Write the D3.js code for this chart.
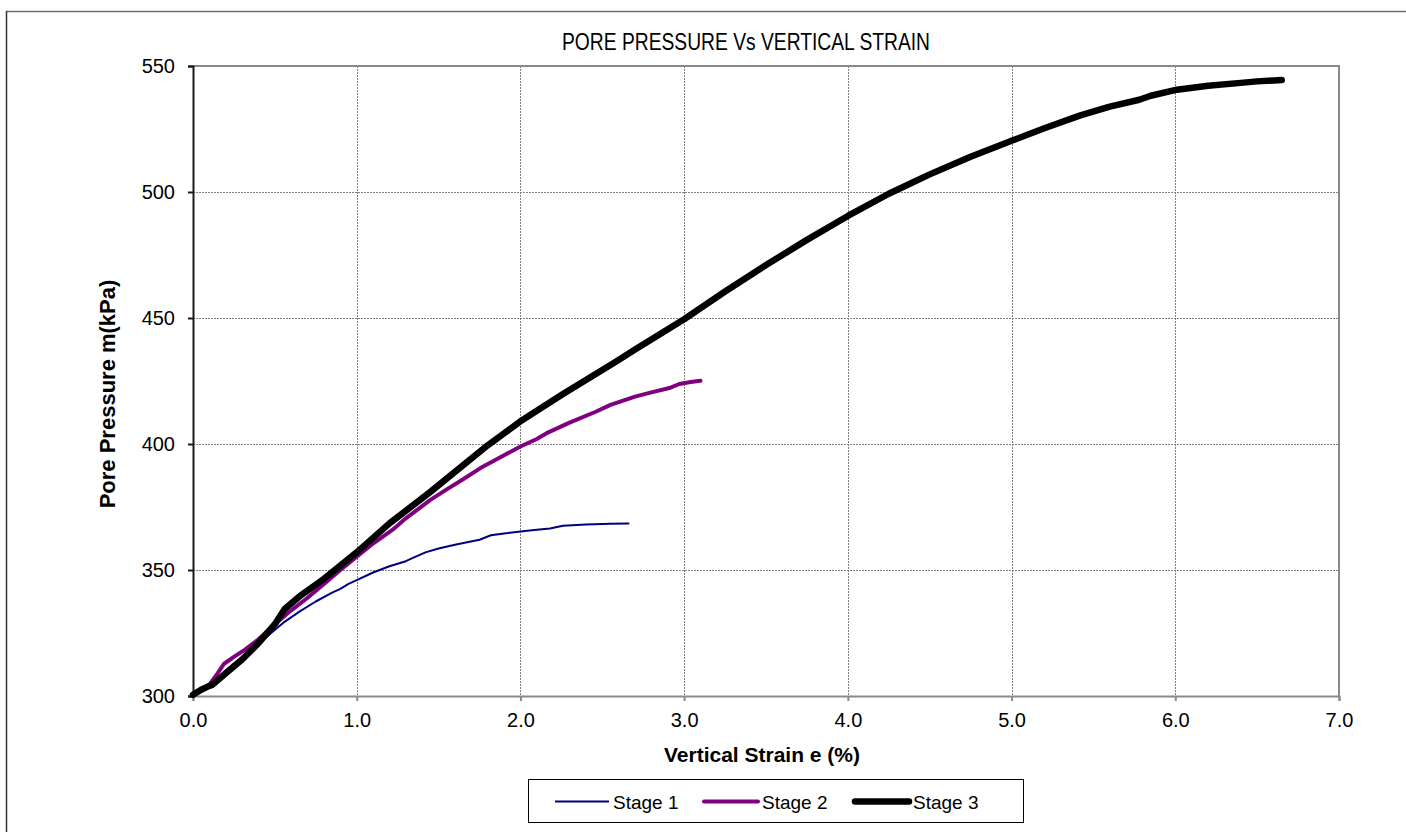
<!DOCTYPE html>
<html>
<head>
<meta charset="utf-8">
<script src="https://cdn.jsdelivr.net/npm/d3@7"></script>
<style>
  html, body { margin: 0; padding: 0; background: #fff; }
  svg { display: block; font-family: "Liberation Sans", Arial, sans-serif; }
</style>
</head>
<body>
<svg id="chart" width="1406" height="832"></svg>
<script>
// Stage 1 readings
const strain1 = [0, 0.1, 0.2, 0.3, 0.35, 0.45, 0.55, 0.65, 0.75, 0.85, 0.9, 0.95, 1.0, 1.1, 1.2, 1.3, 1.35, 1.42, 1.5, 1.6, 1.75, 1.82, 1.9, 2.0, 2.1, 2.18, 2.26, 2.4, 2.55, 2.66];
const pressure1 = [300.5, 304, 310, 315.5, 318, 323.5, 329, 333.5, 337.5, 341, 342.5, 344.5, 346, 349, 351.5, 353.5, 355, 357, 358.5, 360, 362, 363.8, 364.5, 365.3, 366, 366.5, 367.6, 368.1, 368.4, 368.5];

// Stage 2 readings
const strain2 = [0, 0.1, 0.15, 0.19, 0.25, 0.32, 0.4, 0.5, 0.6, 0.7, 0.8, 0.9, 1.0, 1.1, 1.22, 1.3, 1.45, 1.55, 1.65, 1.77, 1.9, 2.0, 2.1, 2.16, 2.3, 2.46, 2.55, 2.7, 2.8, 2.91, 2.97, 3.04, 3.1];
const pressure2 = [301, 304.5, 309, 312.8, 315.5, 318.5, 322.5, 328.5, 334, 339, 344.5, 350, 355.3, 360.5, 366, 370.5, 377.8, 382, 386, 391, 395.5, 399, 402, 404.3, 408.5, 412.8, 415.5, 418.8, 420.5, 422.2, 423.8, 424.6, 425.1];

// Stage 3 readings
const strain3 = [0, 0.05, 0.1, 0.12, 0.2, 0.3, 0.4, 0.5, 0.56, 0.65, 0.8, 1.0, 1.2, 1.45, 1.8, 2.0, 2.26, 2.58, 2.7, 3.0, 3.25, 3.5, 3.75, 4.0, 4.25, 4.5, 4.75, 5.0, 5.2, 5.42, 5.6, 5.78, 5.85, 6.01, 6.2, 6.4, 6.5, 6.65];
const pressure3 = [300.5, 302.5, 304, 304.5, 309, 314.5, 321, 328.5, 334.5, 339.5, 346.5, 357, 368.5, 381, 399.5, 409, 419.8, 432.5, 437.5, 449.5, 460.5, 471, 481, 490.5, 499.3, 507, 514, 520.3, 525.3, 530.4, 533.9, 536.6, 538.2, 540.6, 542.2, 543.3, 543.9, 544.4];

const seriesNames = ["Stage 1", "Stage 2", "Stage 3"];
const seriesColors = ["#000080", "#800080", "#000000"];
const seriesWidths = [2, 4, 6.5];

const xTicks = [0, 1, 2, 3, 4, 5, 6, 7];
const yTicks = [300, 350, 400, 450, 500, 550];

const titleText = "PORE PRESSURE Vs VERTICAL STRAIN";
const xTitle = "Vertical Strain e (%)";
const yTitle = "Pore Pressure m(kPa)";

const svg = d3.select("#chart");

// chart frame (top and left edges visible)
svg.append("line").attr("x1", 6).attr("x2", 1406).attr("y1", 11.5).attr("y2", 11.5)
  .attr("stroke", "#6e6e6e").attr("stroke-width", 1.5);
svg.append("line").attr("x1", 6.5).attr("x2", 6.5).attr("y1", 11).attr("y2", 832)
  .attr("stroke", "#333").attr("stroke-width", 1.5);

const plot = { left: 193, right: 1339, top: 66, bottom: 696 };

const x = d3.scaleLinear().domain([0, 7]).range([plot.left, plot.right]);
const y = d3.scaleLinear().domain([300, 550]).range([plot.bottom, plot.top]);

// gridlines
const grid = svg.append("g").attr("stroke", "#808080").attr("stroke-width", 1)
  .attr("stroke-dasharray", "2,1");
grid.selectAll(".gx").data(xTicks.slice(1, -1)).join("line")
  .attr("x1", d => Math.round(x(d)) + 0.5).attr("x2", d => Math.round(x(d)) + 0.5)
  .attr("y1", plot.top).attr("y2", plot.bottom);
grid.selectAll(".gy").data(yTicks.slice(1, -1)).join("line")
  .attr("y1", d => Math.round(y(d)) + 0.5).attr("y2", d => Math.round(y(d)) + 0.5)
  .attr("x1", plot.left).attr("x2", plot.right);

// plot area border: top and right
svg.append("path")
  .attr("d", `M${plot.left},${plot.top}H${plot.right}V${plot.bottom}`)
  .attr("fill", "none").attr("stroke", "#8a8a8a").attr("stroke-width", 2);

// x axis
const xAxis = svg.append("g").attr("transform", `translate(0,${plot.bottom})`)
  .call(d3.axisBottom(x).tickValues(xTicks).tickFormat(d3.format(".1f")).tickSize(5).tickPadding(12));
xAxis.select(".domain").attr("stroke", "#8a8a8a").attr("stroke-width", 2);
xAxis.selectAll(".tick line").attr("stroke", "#8a8a8a").attr("stroke-width", 2);
xAxis.selectAll(".tick text").attr("font-size", 20).attr("fill", "#000")
  .attr("font-family", "'Liberation Sans', Arial, sans-serif");

// y axis
const yAxis = svg.append("g").attr("transform", `translate(${plot.left},0)`)
  .call(d3.axisLeft(y).tickValues(yTicks).tickFormat(d3.format("d")).tickSize(5).tickPadding(13));
yAxis.select(".domain").attr("stroke", "#1a1a1a").attr("stroke-width", 2);
yAxis.selectAll(".tick line").attr("stroke", "#1a1a1a").attr("stroke-width", 2);
yAxis.selectAll(".tick text").attr("font-size", 20).attr("fill", "#000")
  .attr("font-family", "'Liberation Sans', Arial, sans-serif");

// series
const series = [
  { xs: strain1, ys: pressure1 },
  { xs: strain2, ys: pressure2 },
  { xs: strain3, ys: pressure3 }
];
const line = d3.line().x(d => x(d[0])).y(d => y(d[1]));
series.forEach((s, i) => {
  const pts = s.xs.map((v, k) => [v, s.ys[k]]);
  svg.append("path").datum(pts)
    .attr("d", line)
    .attr("fill", "none")
    .attr("stroke", seriesColors[i])
    .attr("stroke-width", seriesWidths[i])
    .attr("stroke-linejoin", "round")
    .attr("stroke-linecap", "round");
});

// titles
svg.append("text").attr("x", 746).attr("y", 50).attr("text-anchor", "middle")
  .attr("font-family", "'Liberation Sans Narrow', 'Arial Narrow', 'Liberation Sans', sans-serif")
  .attr("font-size", 23).attr("fill", "#000")
  .attr("textLength", 368).attr("lengthAdjust", "spacingAndGlyphs")
  .text(titleText);

svg.append("text").attr("x", 762).attr("y", 762).attr("text-anchor", "middle")
  .attr("font-size", 21).attr("font-weight", "bold").attr("fill", "#000")
  .text(xTitle);

svg.append("text").attr("transform", "translate(115,394) rotate(-90)")
  .attr("text-anchor", "middle")
  .attr("font-size", 22).attr("font-weight", "bold").attr("fill", "#000")
  .text(yTitle);

// legend
const legend = svg.append("g");
legend.append("rect").attr("x", 528.5).attr("y", 779.5).attr("width", 495).attr("height", 43)
  .attr("fill", "#fff").attr("stroke", "#000").attr("stroke-width", 1);
const legendX = [555, 704, 855];
seriesNames.forEach((name, i) => {
  legend.append("line").attr("x1", legendX[i]).attr("x2", legendX[i] + 54)
    .attr("y1", 801.5).attr("y2", 801.5)
    .attr("stroke", seriesColors[i]).attr("stroke-width", seriesWidths[i])
    .attr("stroke-linecap", i === 0 ? "butt" : "round");
  legend.append("text").attr("x", legendX[i] + 58).attr("y", 809)
    .attr("font-size", 19).attr("fill", "#000").text(name);
});
</script>
</body>
</html>
